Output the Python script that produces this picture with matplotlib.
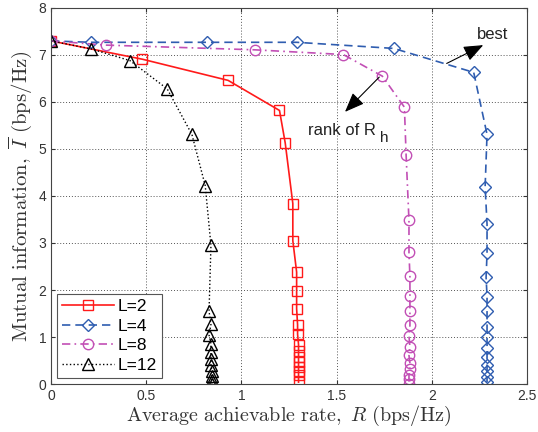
import matplotlib
matplotlib.use('Agg')
import matplotlib.pyplot as plt

# ----------------------------- data -----------------------------
r_L2 = [0.00, 0.48, 0.93, 1.20, 1.23, 1.27, 1.27, 1.29, 1.29, 1.29, 1.295, 1.295, 1.30,
        1.30, 1.30, 1.30, 1.30, 1.30, 1.30, 1.30]
i_L2 = [7.30, 6.91, 6.46, 5.82, 5.13, 3.84, 3.05, 2.38, 1.97, 1.60, 1.26, 1.06, 0.84,
        0.70, 0.57, 0.46, 0.37, 0.28, 0.19, 0.04]

r_L4 = [0.00, 0.21, 0.82, 1.29, 1.80, 2.22, 2.29, 2.28, 2.29, 2.29, 2.285, 2.29, 2.29,
        2.29, 2.29, 2.29, 2.29, 2.29, 2.29, 2.29, 2.29]
i_L4 = [7.30, 7.27, 7.27, 7.27, 7.14, 6.63, 5.31, 4.20, 3.40, 2.78, 2.27, 1.86, 1.55,
        1.22, 0.99, 0.77, 0.58, 0.41, 0.27, 0.14, 0.04]

r_L8 = [0.00, 0.29, 1.07, 1.535, 1.74, 1.856, 1.865, 1.88, 1.88, 1.885, 1.885, 1.885,
        1.885, 1.88, 1.885, 1.88, 1.885, 1.885, 1.88, 1.88, 1.88]
i_L8 = [7.30, 7.21, 7.11, 7.01, 6.55, 5.89, 4.87, 3.48, 2.80, 2.29, 1.88, 1.55, 1.25,
        1.02, 0.79, 0.61, 0.44, 0.31, 0.19, 0.11, 0.01]

r_L12 = [0.00, 0.21, 0.415, 0.61, 0.74, 0.81, 0.84, 0.83, 0.84, 0.83, 0.84, 0.84, 0.84,
         0.84, 0.845, 0.845, 0.845, 0.845]
i_L12 = [7.30, 7.13, 6.88, 6.28, 5.31, 4.22, 2.95, 1.55, 1.27, 1.04, 0.86, 0.68, 0.53,
         0.40, 0.28, 0.18, 0.09, 0.01]

labels = ['L=2', 'L=4', 'L=8', 'L=12']
# -------------------------------------------------------------------------------------

plt.rcParams['mathtext.fontset'] = 'cm'
plt.rcParams['font.family'] = 'Liberation Sans'

fig = plt.figure(figsize=(5.38, 4.32), dpi=100)
ax = fig.add_axes([0.0948, 0.1111, 0.8848, 0.8704])

mk = dict(markerfacecolor='none', markeredgewidth=1.0)
ax.plot(r_L2, i_L2, '-', color='#FF1A1A', marker='s', lw=1.2, label=labels[0],
        markersize=6.5, **mk)
ax.plot(r_L4, i_L4, '--', color='#2F5DB0', marker='D', lw=1.2, label=labels[1],
        dashes=(5, 3), markersize=6, **mk)
ax.plot(r_L8, i_L8, '-.', color='#C24FB5', marker='o', lw=1.2, label=labels[2],
        dashes=(5, 2.5, 1, 2.5), markersize=7.5, **mk)
ax.plot(r_L12, i_L12, ':', color='black', marker='^', lw=1.0, label=labels[3],
        markersize=8, **mk)

ax.set_xlim(0, 2.5)
ax.set_ylim(0, 8)
ax.set_xticks([0, 0.5, 1, 1.5, 2, 2.5])
ax.set_xticklabels(['0', '0.5', '1', '1.5', '2', '2.5'])
ax.set_yticks(range(0, 9))
ax.tick_params(labelsize=10, colors='#333333', direction='in', length=3, top=True, right=True)
ax.grid(True, linestyle=(0, (1, 2)), color='#555555', linewidth=0.7)
for s in ax.spines.values():
    s.set_color('#444444')
    s.set_linewidth(0.8)

ax.set_xlabel(r'$\mathrm{Average\ achievable\ rate,}\ R\ \mathrm{(bps/Hz)}$', fontsize=14.5,
              color='#333333', labelpad=1)
ax.set_ylabel(r'$\mathrm{Mutual\ information,}\ \overline{I}\ \mathrm{(bps/Hz)}$', fontsize=15,
              color='#333333', labelpad=3)

# annotations
arrow = dict(arrowstyle='-|>,head_length=0.75,head_width=0.3', color='black', lw=0.8,
             mutation_scale=16, shrinkA=0, shrinkB=0)
ax.annotate('', xy=(2.27, 7.21), xytext=(2.078, 6.82), arrowprops=arrow)
ax.text(2.235, 7.43, 'best', fontsize=12, va='center', ha='left', color='#222222')
ax.annotate('', xy=(1.544, 5.79), xytext=(1.724, 6.53), arrowprops=arrow)
ax.text(1.351, 5.39, 'rank of R', fontsize=12, va='center', ha='left', color='#222222')
ax.text(1.73, 5.24, 'h', fontsize=11, va='center', ha='left', color='#222222')

leg = ax.legend(loc='lower left', fontsize=12.5, handlelength=3.0, handletextpad=0.2,
                borderpad=0.3, labelspacing=0.25, fancybox=False, framealpha=1,
                edgecolor='#555555', borderaxespad=0.35)
leg.get_frame().set_linewidth(0.8)

fig.savefig('out.png', dpi=100)
